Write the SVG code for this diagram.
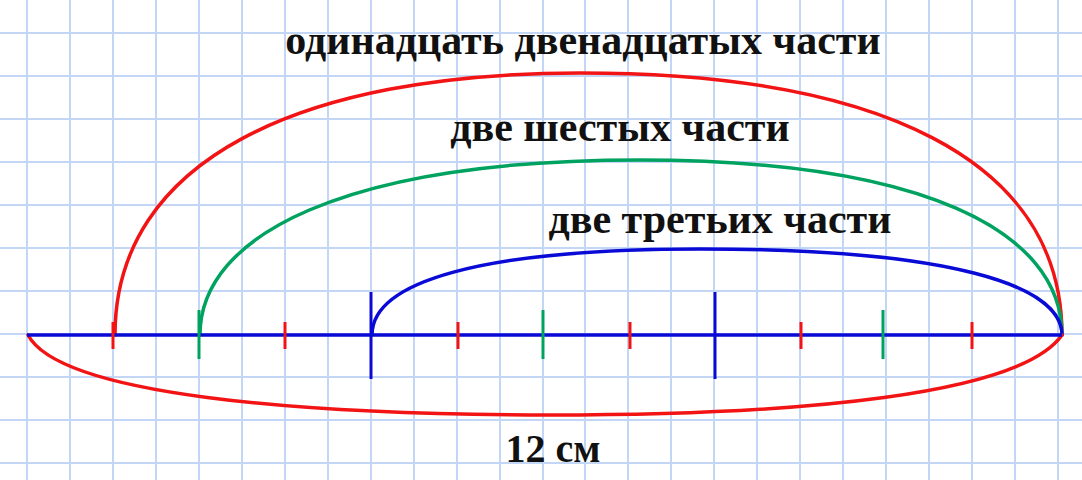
<svg xmlns="http://www.w3.org/2000/svg" width="1082" height="480" viewBox="0 0 1082 480">
<style>
.g{stroke:#c3d6f6;stroke-width:2}
.c{fill:none;stroke-width:3.5;stroke-linecap:round}
.r{stroke:#f21414}
.gr{stroke:#00a260}
.b{stroke:#0a0ad6}
.t{stroke-width:3}
.lbl{font-family:"Liberation Serif","Times New Roman",serif;font-weight:bold;fill:#111;text-anchor:middle}
</style>
<rect width="1082" height="480" fill="#ffffff"/>
<g id="grid">
<line class="g" x1="27" y1="0" x2="27" y2="480"/>
<line class="g" x1="70" y1="0" x2="70" y2="480"/>
<line class="g" x1="113" y1="0" x2="113" y2="480"/>
<line class="g" x1="156" y1="0" x2="156" y2="480"/>
<line class="g" x1="199" y1="0" x2="199" y2="480"/>
<line class="g" x1="242" y1="0" x2="242" y2="480"/>
<line class="g" x1="285" y1="0" x2="285" y2="480"/>
<line class="g" x1="328" y1="0" x2="328" y2="480"/>
<line class="g" x1="371" y1="0" x2="371" y2="480"/>
<line class="g" x1="414" y1="0" x2="414" y2="480"/>
<line class="g" x1="457" y1="0" x2="457" y2="480"/>
<line class="g" x1="500" y1="0" x2="500" y2="480"/>
<line class="g" x1="543" y1="0" x2="543" y2="480"/>
<line class="g" x1="585" y1="0" x2="585" y2="480"/>
<line class="g" x1="628" y1="0" x2="628" y2="480"/>
<line class="g" x1="671" y1="0" x2="671" y2="480"/>
<line class="g" x1="714" y1="0" x2="714" y2="480"/>
<line class="g" x1="757" y1="0" x2="757" y2="480"/>
<line class="g" x1="800" y1="0" x2="800" y2="480"/>
<line class="g" x1="843" y1="0" x2="843" y2="480"/>
<line class="g" x1="886" y1="0" x2="886" y2="480"/>
<line class="g" x1="929" y1="0" x2="929" y2="480"/>
<line class="g" x1="972" y1="0" x2="972" y2="480"/>
<line class="g" x1="1015" y1="0" x2="1015" y2="480"/>
<line class="g" x1="1058" y1="0" x2="1058" y2="480"/>
<line class="g" x1="0" y1="33" x2="1082" y2="33"/>
<line class="g" x1="0" y1="76" x2="1082" y2="76"/>
<line class="g" x1="0" y1="119" x2="1082" y2="119"/>
<line class="g" x1="0" y1="162" x2="1082" y2="162"/>
<line class="g" x1="0" y1="205" x2="1082" y2="205"/>
<line class="g" x1="0" y1="248" x2="1082" y2="248"/>
<line class="g" x1="0" y1="291" x2="1082" y2="291"/>
<line class="g" x1="0" y1="334" x2="1082" y2="334"/>
<line class="g" x1="0" y1="377" x2="1082" y2="377"/>
<line class="g" x1="0" y1="420" x2="1082" y2="420"/>
<line class="g" x1="0" y1="463" x2="1082" y2="463"/>
</g>
<g id="connectors">
<path class="c r" d="M115,335 C115,160 300,73 580,73 C880,73 1062,160 1062,335"/>
<path class="c gr" d="M200,335 C200,235 345,160 640,160 C920,160 1062,230 1062,335"/>
<path class="c b" d="M372,335 C372,282 480,249 700,249 C950,249 1062,285 1062,335"/>
<path class="c r" d="M28,335 C60,395 300,415 550,415 C800,415 1020,395 1062,335"/>
</g>
<g id="axis">
<line class="b" stroke-width="3.5" x1="27" y1="335" x2="1062" y2="335"/>
<line class="r t" x1="113" y1="322" x2="113" y2="349"/>
<line class="r t" x1="285" y1="322" x2="285" y2="349"/>
<line class="r t" x1="458" y1="322" x2="458" y2="349"/>
<line class="r t" x1="630" y1="322" x2="630" y2="349"/>
<line class="r t" x1="801" y1="322" x2="801" y2="349"/>
<line class="r t" x1="972" y1="322" x2="972" y2="349"/>
<line class="gr t" x1="199" y1="310" x2="199" y2="359"/>
<line class="gr t" x1="543" y1="310" x2="543" y2="359"/>
<line class="gr t" x1="883" y1="310" x2="883" y2="359"/>
<line class="b t" x1="371" y1="292" x2="371" y2="379"/>
<line class="b t" x1="715" y1="292" x2="715" y2="379"/>
</g>
<g id="label-eleven-twelfths"><text class="lbl" x="583" y="54" font-size="42">одинадцать двенадцатых части</text></g>
<g id="label-two-sixths"><text class="lbl" x="620" y="141" font-size="42">две шестых части</text></g>
<g id="label-two-thirds"><text class="lbl" x="720" y="233" font-size="42">две третьих части</text></g>
<g id="label-length"><text class="lbl" x="553" y="462" font-size="40">12 см</text></g>
</svg>
